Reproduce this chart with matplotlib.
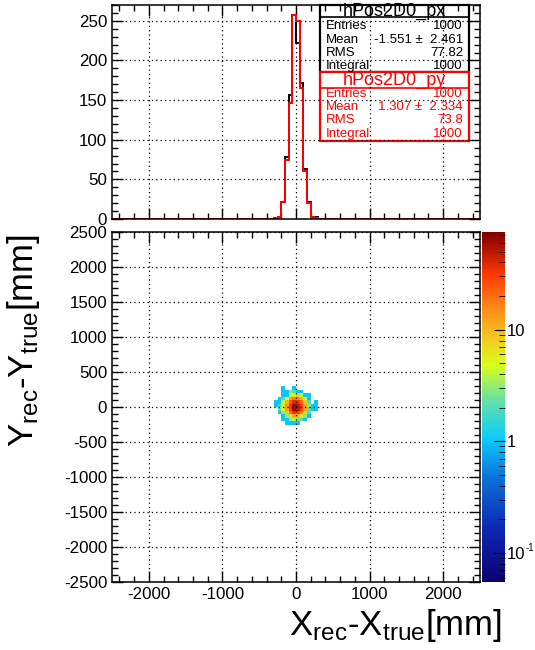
import numpy as np
import matplotlib.pyplot as plt
from matplotlib.colors import LogNorm, LinearSegmentedColormap
from matplotlib.ticker import MultipleLocator, LogLocator, NullFormatter
from matplotlib.patches import Rectangle
from matplotlib.lines import Line2D

plt.rcParams['font.family'] = ['Liberation Sans', 'DejaVu Sans']
plt.rcParams['mathtext.fontset'] = 'custom'
plt.rcParams['mathtext.rm'] = 'Liberation Sans'
plt.rcParams['mathtext.default'] = 'regular'
plt.rcParams['axes.unicode_minus'] = False

# binning (mm)
edges = np.arange(-2500, 2501, 50)

# 1D projections: low edge of each filled bin and its content
proj_lo = [-300, -250, -200, -150, -100, -50, 0, 50, 100, 150, 200, 250]
px_counts = [1, 3, 21, 78, 156, 258, 222, 171, 63, 22, 3, 2]
py_counts = [1, 2, 21, 75, 146, 257, 250, 165, 60, 20, 3, 1]

# 2D histogram, filled region: columns x = -300..250, rows y = 250 (top) .. -300 (bottom)
xy_x_lo = [-300, -250, -200, -150, -100, -50, 0, 50, 100, 150, 200, 250]
xy_y_lo = [250, 200, 150, 100, 50, 0, -50, -100, -150, -200, -250, -300]
xy_counts = [
    [0, 0, 1, 0, 0, 1, 0, 0, 0, 0, 0, 0],
    [0, 0, 1, 1, 3, 2, 1, 1, 0, 0, 0, 0],
    [0, 0, 1, 1, 4, 6, 8, 4, 1, 1, 0, 0],
    [0, 1, 2, 5, 12, 18, 16, 10, 4, 1, 0, 0],
    [1, 1, 4, 10, 25, 40, 35, 22, 8, 2, 0, 1],
    [1, 2, 6, 14, 35, 65, 55, 30, 12, 3, 1, 1],
    [0, 2, 5, 12, 32, 60, 50, 28, 11, 2, 1, 1],
    [0, 1, 3, 9, 20, 35, 30, 18, 7, 2, 0, 0],
    [0, 0, 1, 3, 7, 12, 10, 6, 3, 1, 0, 0],
    [0, 0, 1, 1, 3, 4, 3, 2, 1, 0, 0, 0],
    [0, 0, 0, 1, 1, 1, 1, 0, 0, 0, 0, 0],
    [0, 0, 0, 0, 0, 0, 0, 0, 0, 0, 0, 0],
]

stats_px = [("Entries", "1000"), ("Mean", "-1.551 \u00b1  2.461"), ("RMS", "77.82"), ("Integral", "1000")]
stats_py = [("Entries", "1000"), ("Mean", "1.307 \u00b1  2.334"), ("RMS", "73.8"), ("Integral", "1000")]

# ROOT-like rainbow palette
cmap = LinearSegmentedColormap.from_list("rootrainbow", [
    (0.00, (0.05, 0.0, 0.45)),
    (0.15, (0.05, 0.15, 0.70)),
    (0.30, (0.05, 0.45, 0.85)),
    (0.41, (0.05, 0.80, 0.98)),
    (0.52, (0.40, 0.88, 0.65)),
    (0.62, (0.85, 1.00, 0.10)),
    (0.70, (0.95, 0.78, 0.12)),
    (0.78, (1.00, 0.55, 0.10)),
    (0.88, (1.00, 0.22, 0.02)),
    (1.00, (0.50, 0.00, 0.00)),
])

W, H = 535, 650
def fx(x):
    return x / W
def fy(y):
    return 1 - y / H

fig = plt.figure(figsize=(5.35, 6.5), dpi=100)
ax1 = fig.add_axes([fx(112), fy(219), fx(480) - fx(112), fy(5) - fy(219)])
ax2 = fig.add_axes([fx(112), fy(582), fx(480) - fx(112), fy(232) - fy(582)])
cax = fig.add_axes([fx(482), fy(582), fx(505) - fx(482), fy(232) - fy(582)])

def style(ax):
    for s in ax.spines.values():
        s.set_linewidth(1.1)
    ax.tick_params(which='both', direction='in', top=True, right=True, labelsize=12.2, width=1.0)
    ax.tick_params(which='major', length=8)
    ax.tick_params(which='minor', length=4)
    ax.grid(True, which='major', color='black', linestyle=(0, (1, 2.5)), linewidth=0.9)

# top: 1D projections
idx = (np.array(proj_lo) + 2500) // 50
px_full = np.zeros(len(edges) - 1)
py_full = np.zeros(len(edges) - 1)
px_full[idx] = px_counts
py_full[idx] = py_counts
ax1.stairs(px_full, edges, color='black', linewidth=1.4, zorder=2)
ax1.stairs(py_full, edges, color='red', linewidth=1.4, zorder=2.1)
ax1.set_xlim(-2500, 2500)
ax1.set_ylim(0, 270)
ax1.xaxis.set_major_locator(MultipleLocator(1000))
ax1.xaxis.set_minor_locator(MultipleLocator(200))
ax1.yaxis.set_major_locator(MultipleLocator(50))
ax1.yaxis.set_minor_locator(MultipleLocator(10))
ax1.set_xticklabels([])
style(ax1)

# bottom: 2D
counts = np.array(xy_counts, dtype=float)[::-1]
counts = np.ma.masked_where(counts <= 0, counts)
xe = np.append(xy_x_lo, xy_x_lo[-1] + 50)
ye = np.append(xy_y_lo[::-1], xy_y_lo[0] + 50)
norm = LogNorm(vmin=0.055, vmax=75)
mesh = ax2.pcolormesh(xe, ye, counts, cmap=cmap, norm=norm, zorder=1)
ax2.set_xlim(-2500, 2500)
ax2.set_ylim(-2500, 2500)
ax2.xaxis.set_major_locator(MultipleLocator(1000))
ax2.xaxis.set_minor_locator(MultipleLocator(200))
ax2.yaxis.set_major_locator(MultipleLocator(500))
ax2.yaxis.set_minor_locator(MultipleLocator(100))
style(ax2)
ax2.set_axisbelow(False)

cb = fig.colorbar(mesh, cax=cax)
cb.outline.set_visible(False)
cb.set_ticks([0.1, 1, 10])
cb.set_ticklabels(['10', '1', '10'])
cb.ax.yaxis.set_minor_locator(LogLocator(base=10, subs=np.arange(2, 10)))
cb.ax.yaxis.set_minor_formatter(NullFormatter())
cax.tick_params(which='both', direction='in', right=True, left=False, labelsize=12, pad=1)
cax.tick_params(which='major', length=8)
cax.tick_params(which='minor', length=4)
# small exponent of the 10^-1 label
cax.text((525.5 - 482) / (505 - 482), 0.1, '-1', transform=cax.get_yaxis_transform(),
         ha='left', va='bottom', fontsize=7, clip_on=False)

# axis labels
fig.text(fx(24), fy(341), r'Y$_{rec}$-Y$_{true}$[mm]', rotation=90, ha='center', va='center', fontsize=25)
fig.text(fx(395), fy(625), r'X$_{rec}$-X$_{true}$[mm]', ha='center', va='center', fontsize=25)

# stat boxes (grid lines show through them, as in the original)
def stat_box(top, bottom, split, title, rows, color, row_y):
    ax1.add_patch(Rectangle((fx(320), fy(bottom)), fx(469) - fx(320), fy(top) - fy(bottom),
                            transform=fig.transFigure, facecolor='white', edgecolor=color,
                            linewidth=1.6, zorder=1, clip_on=False))
    ax1.add_line(Line2D([fx(320), fx(469)], [fy(split), fy(split)], transform=fig.transFigure,
                        color=color, linewidth=1.2, zorder=1.2, clip_on=False))
    ax1.text(fx(394), fy((top + split) / 2 + 0.5), title, transform=fig.transFigure,
             ha='center', va='center', fontsize=13, color=color, zorder=5)
    for (name, val), y in zip(rows, row_y):
        ax1.text(fx(326), fy(y), name, transform=fig.transFigure,
                 ha='left', va='center', fontsize=9.5, color=color, zorder=5)
        ax1.text(fx(463), fy(y), val, transform=fig.transFigure,
                 ha='right', va='center', fontsize=9.5, color=color, zorder=5)

stat_box(5, 72, 17, "hPos2D0_px", stats_px, 'black', [26, 40, 53, 66])
stat_box(72, 141, 88, "hPos2D0_py", stats_py, 'red', [94, 107, 120, 134])

plt.savefig('out.png', dpi=100)
